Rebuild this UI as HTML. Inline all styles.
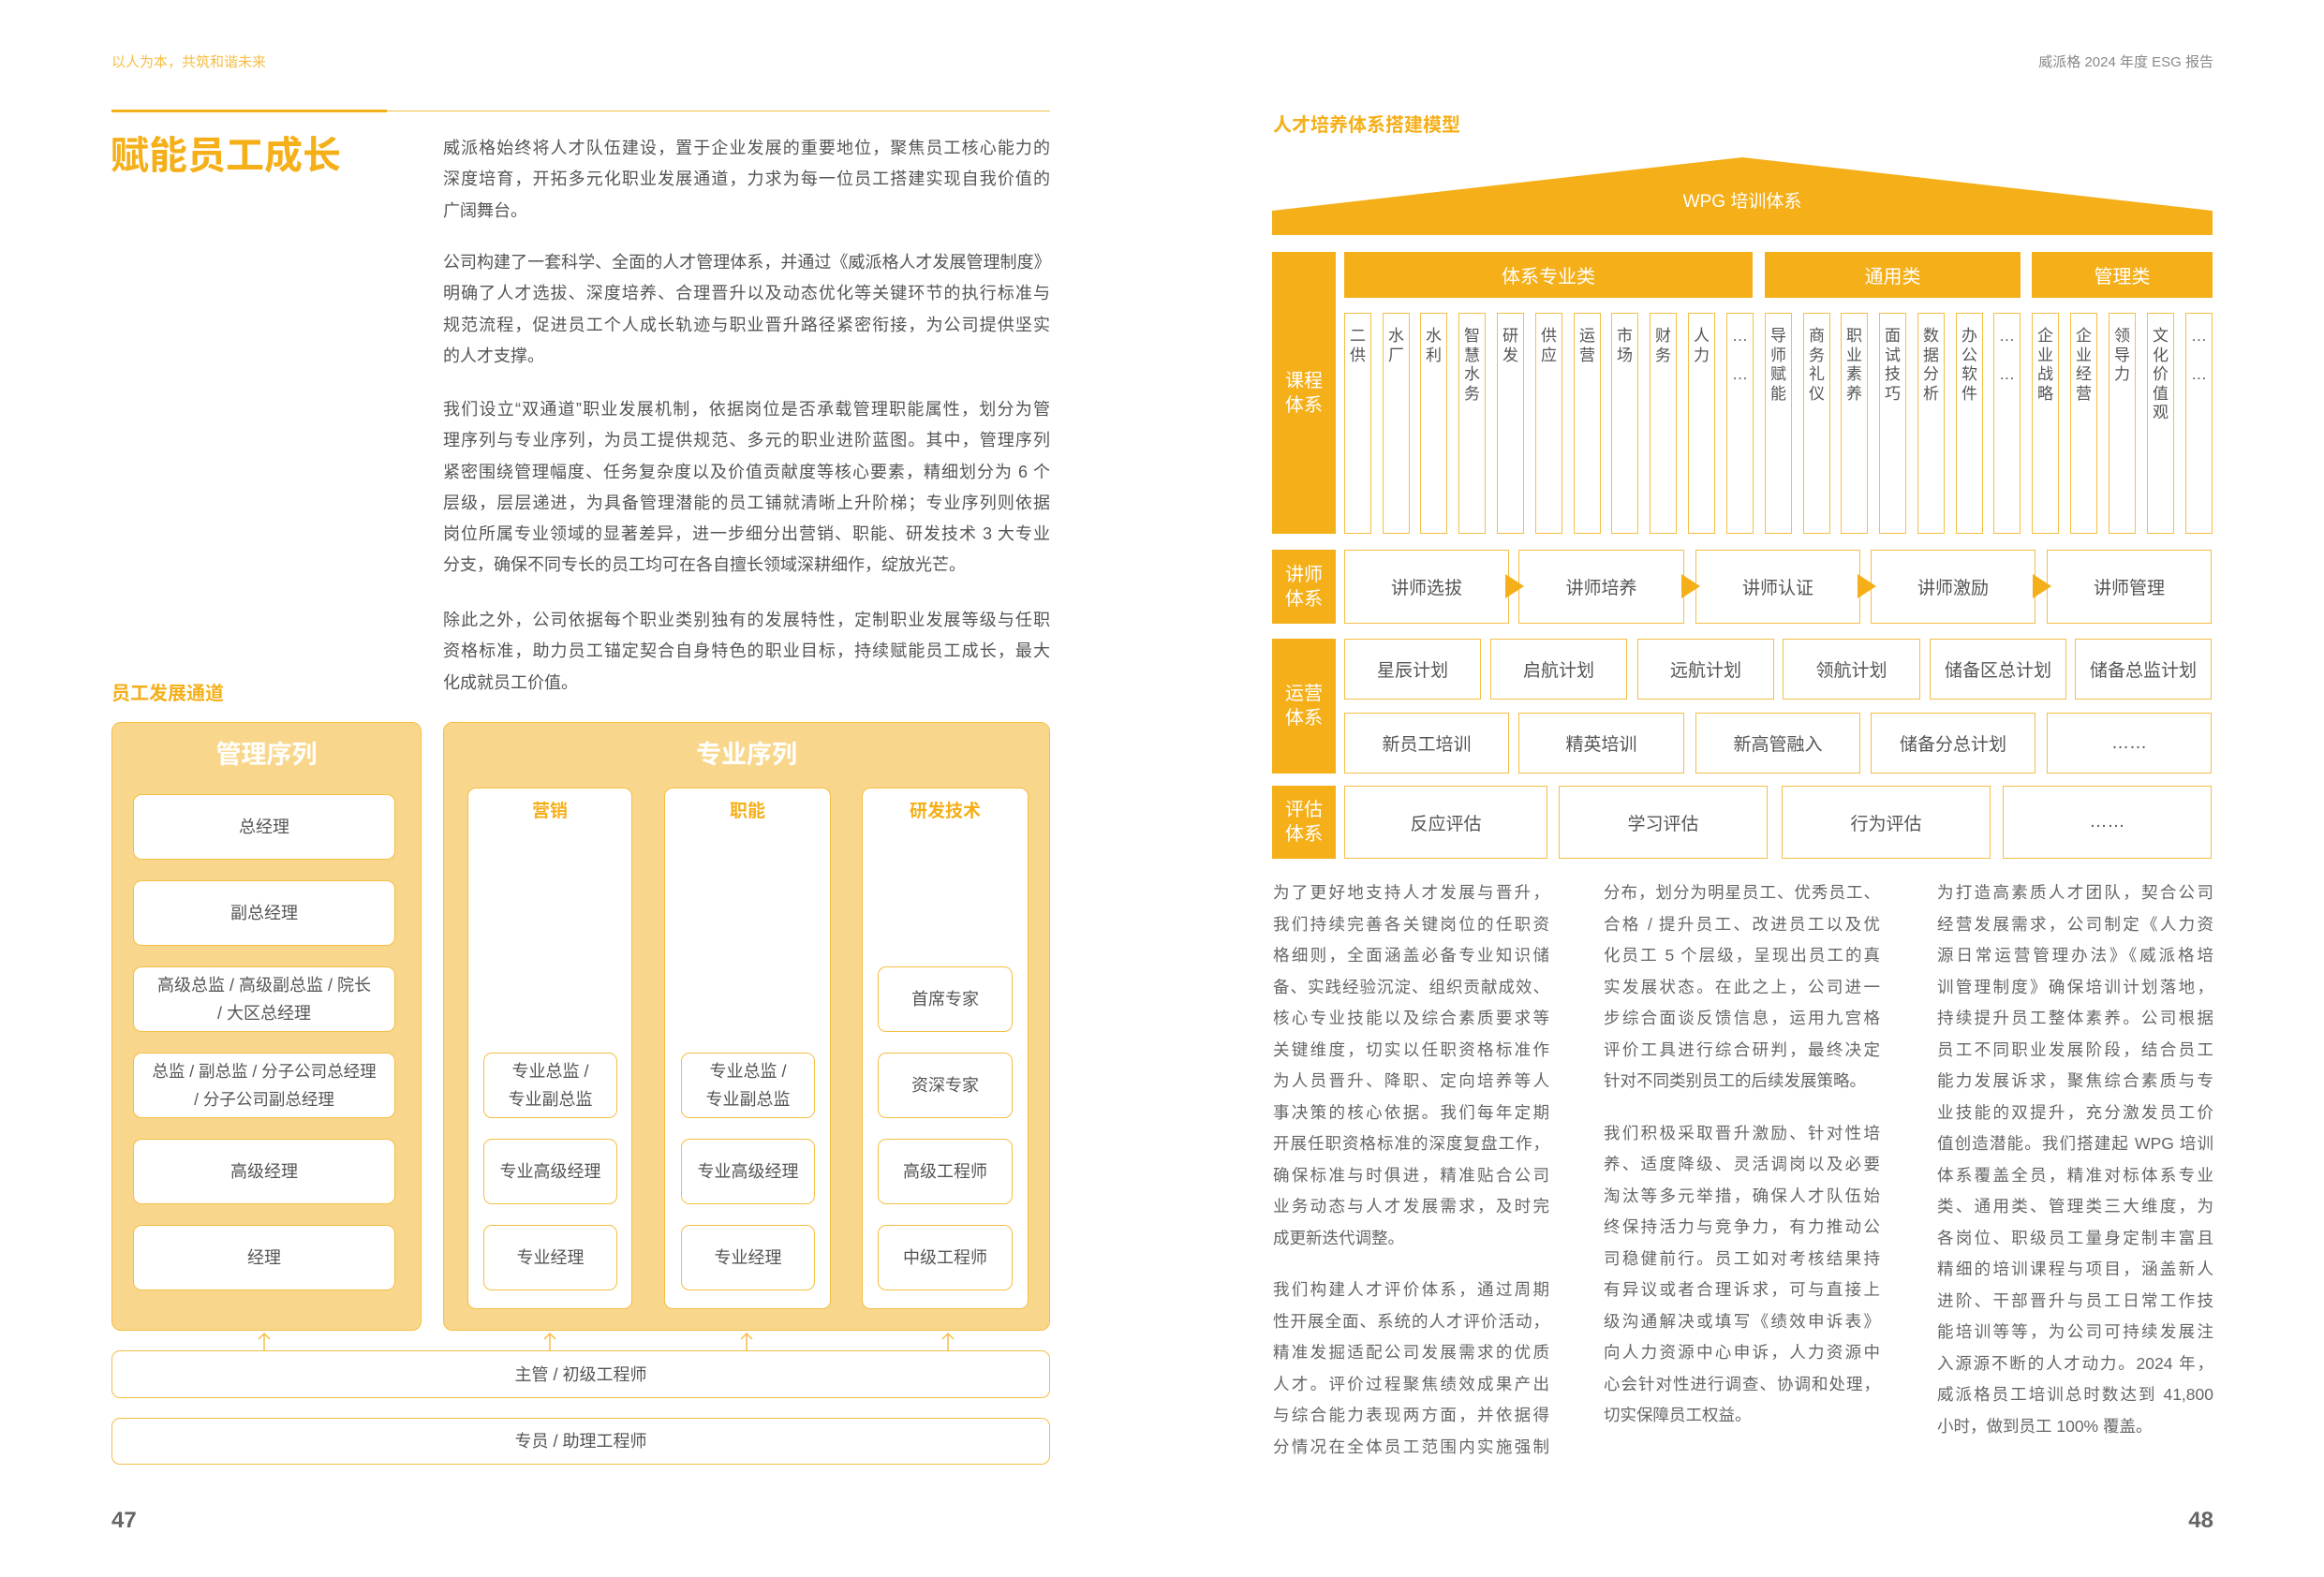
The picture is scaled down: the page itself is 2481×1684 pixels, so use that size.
<!DOCTYPE html>
<html><head><meta charset="utf-8">
<style>
*{margin:0;padding:0;box-sizing:border-box}
body{width:2481px;height:1684px;position:relative;background:#fff;font-family:"Liberation Sans","Noto Sans CJK SC",sans-serif;color:#555;overflow:hidden}
.a{position:absolute}
.j{display:block;text-align:justify;text-align-last:justify;height:33.3px;line-height:33.3px;white-space:nowrap}
.l{display:block;height:33.3px;line-height:33.3px;white-space:nowrap}
.p{position:absolute;width:648px;left:473px;font-size:18px;color:#555}
.rc{position:absolute;width:295px;font-size:17.5px;color:#666;top:937px}
.rc .j,.rc .l{height:33.5px;line-height:33.5px}
.box{position:absolute;background:#fff;border:1.5px solid #F5BE45;border-radius:9px;display:flex;align-items:center;justify-content:center;text-align:center;font-size:18px;color:#555;line-height:30px}
.lab{position:absolute;background:#F5AF19;color:#fff;font-size:20px;display:flex;align-items:center;justify-content:center;text-align:center;line-height:26px;left:1358px;width:68px}
.hd{position:absolute;background:#F5AF19;color:#fff;font-size:20px;display:flex;align-items:center;justify-content:center;top:269px;height:49px}
.c{position:absolute;top:334px;height:236px;width:29px;border:1.5px solid #F5BE45;font-size:17px;line-height:20.5px;text-align:center;padding-top:14px;color:#555}
.b{position:absolute;border:1.5px solid #F5BE45;display:flex;align-items:center;justify-content:center;font-size:19px;color:#555;background:#fff}
</style></head><body>
<div class="a" style="left:119px;top:55px;font-size:15px;color:#F5BE45">以人为本，共筑和谐未来</div>
<div class="a" style="right:118px;top:55px;font-size:15px;color:#888">威派格 2024 年度 ESG 报告</div>
<div class="a" style="left:119px;top:118px;width:1002px;height:1px;background:#F5BE45"></div>
<div class="a" style="left:119px;top:117px;width:294px;height:3px;background:#F5AF19"></div>
<div class="a" style="left:118px;top:142px;font-size:41px;font-weight:bold;color:#F5AF19;line-height:48px">赋能员工成长</div>

<div class="p" style="top:142px">
<span class="j">威派格始终将人才队伍建设，置于企业发展的重要地位，聚焦员工核心能力的</span>
<span class="j">深度培育，开拓多元化职业发展通道，力求为每一位员工搭建实现自我价值的</span>
<span class="l">广阔舞台。</span></div>
<div class="p" style="top:264px">
<span class="j" style="letter-spacing:-0.6px">公司构建了一套科学、全面的人才管理体系，并通过《威派格人才发展管理制度》</span>
<span class="j">明确了人才选拔、深度培养、合理晋升以及动态优化等关键环节的执行标准与</span>
<span class="j">规范流程，促进员工个人成长轨迹与职业晋升路径紧密衔接，为公司提供坚实</span>
<span class="l">的人才支撑。</span></div>
<div class="p" style="top:421px">
<span class="j">我们设立“双通道”职业发展机制，依据岗位是否承载管理职能属性，划分为管</span>
<span class="j">理序列与专业序列，为员工提供规范、多元的职业进阶蓝图。其中，管理序列</span>
<span class="j">紧密围绕管理幅度、任务复杂度以及价值贡献度等核心要素，精细划分为 6 个</span>
<span class="j">层级，层层递进，为具备管理潜能的员工铺就清晰上升阶梯；专业序列则依据</span>
<span class="j">岗位所属专业领域的显著差异，进一步细分出营销、职能、研发技术 3 大专业</span>
<span class="l">分支，确保不同专长的员工均可在各自擅长领域深耕细作，绽放光芒。</span></div>
<div class="p" style="top:646px">
<span class="j">除此之外，公司依据每个职业类别独有的发展特性，定制职业发展等级与任职</span>
<span class="j">资格标准，助力员工锚定契合自身特色的职业目标，持续赋能员工成长，最大</span>
<span class="l">化成就员工价值。</span></div>

<div class="a" style="left:119px;top:724px;font-size:20px;font-weight:bold;color:#F5AF19">员工发展通道</div>

<div class="a" style="left:119px;top:771px;width:331px;height:650px;background:#F8D78C;border:1.5px solid #F5BE45;border-radius:10px"></div>
<div class="a" style="left:473px;top:771px;width:648px;height:650px;background:#F8D78C;border:1.5px solid #F5BE45;border-radius:10px"></div>
<div class="a" style="left:119px;top:784px;width:331px;text-align:center;font-size:27px;font-weight:bold;color:#fff">管理序列</div>
<div class="a" style="left:473px;top:784px;width:648px;text-align:center;font-size:27px;font-weight:bold;color:#fff">专业序列</div>

<div class="box" style="left:142px;top:848px;width:280px;height:70px">总经理</div>
<div class="box" style="left:142px;top:940px;width:280px;height:70px">副总经理</div>
<div class="box" style="left:142px;top:1032px;width:280px;height:70px">高级总监 / 高级副总监 / 院长<br>/ 大区总经理</div>
<div class="box" style="left:142px;top:1124px;width:280px;height:70px;font-size:17.5px">总监 / 副总监 / 分子公司总经理<br>/ 分子公司副总经理</div>
<div class="box" style="left:142px;top:1216px;width:280px;height:70px">高级经理</div>
<div class="box" style="left:142px;top:1308px;width:280px;height:70px">经理</div>

<div class="box" style="left:499px;top:841px;width:176px;height:557px;align-items:flex-start;padding-top:10px;color:#F5AF19;font-weight:bold;font-size:19px">营销</div>
<div class="box" style="left:709px;top:841px;width:178px;height:557px;align-items:flex-start;padding-top:10px;color:#F5AF19;font-weight:bold;font-size:19px">职能</div>
<div class="box" style="left:920px;top:841px;width:178px;height:557px;align-items:flex-start;padding-top:10px;color:#F5AF19;font-weight:bold;font-size:19px">研发技术</div>

<div class="box" style="left:516px;top:1124px;width:143px;height:70px">专业总监 /<br>专业副总监</div>
<div class="box" style="left:516px;top:1216px;width:143px;height:70px">专业高级经理</div>
<div class="box" style="left:516px;top:1308px;width:143px;height:70px">专业经理</div>
<div class="box" style="left:727px;top:1124px;width:143px;height:70px">专业总监 /<br>专业副总监</div>
<div class="box" style="left:727px;top:1216px;width:143px;height:70px">专业高级经理</div>
<div class="box" style="left:727px;top:1308px;width:143px;height:70px">专业经理</div>
<div class="box" style="left:937px;top:1032px;width:144px;height:70px">首席专家</div>
<div class="box" style="left:937px;top:1124px;width:144px;height:70px">资深专家</div>
<div class="box" style="left:937px;top:1216px;width:144px;height:70px">高级工程师</div>
<div class="box" style="left:937px;top:1308px;width:144px;height:70px">中级工程师</div>

<div class="box" style="left:119px;top:1442px;width:1002px;height:51px">主管 / 初级工程师</div>
<div class="box" style="left:119px;top:1514px;width:1002px;height:50px">专员 / 助理工程师</div>
<div class="a" style="left:119px;top:1610px;font-size:24px;font-weight:bold;color:#666">47</div>

<svg class="a" style="left:0;top:0" width="2481" height="1684">
<g stroke="#F5BE45" stroke-width="1.5" fill="none">
<path d="M282 1442V1424M276 1430L282 1424L288 1430"/>
<path d="M587 1442V1424M581 1430L587 1424L593 1430"/>
<path d="M797 1442V1424M791 1430L797 1424L803 1430"/>
<path d="M1012 1442V1424M1006 1430L1012 1424L1018 1430"/>
</g>
<polygon points="1358,225 1860,168 2362,225 2362,251 1358,251" fill="#F5AF19"/>
</svg>

<div class="a" style="left:1359px;top:117px;font-size:20px;font-weight:bold;color:#F5AF19">人才培养体系搭建模型</div>
<div class="a" style="left:1358px;top:200px;width:1004px;text-align:center;font-size:19px;color:#fff">WPG 培训体系</div>

<div class="lab" style="top:269px;height:301px">课程<br>体系</div>
<div class="hd" style="left:1435px;width:436px">体系专业类</div>
<div class="hd" style="left:1884px;width:273px">通用类</div>
<div class="hd" style="left:2169px;width:193px">管理类</div>

<div class="c" style="left:1435px">二<br>供</div>
<div class="c" style="left:1476px">水<br>厂</div>
<div class="c" style="left:1516px">水<br>利</div>
<div class="c" style="left:1557px">智<br>慧<br>水<br>务</div>
<div class="c" style="left:1598px">研<br>发</div>
<div class="c" style="left:1639px">供<br>应</div>
<div class="c" style="left:1680px">运<br>营</div>
<div class="c" style="left:1720px">市<br>场</div>
<div class="c" style="left:1761px">财<br>务</div>
<div class="c" style="left:1802px">人<br>力</div>
<div class="c" style="left:1843px">…<br><br>…</div>
<div class="c" style="left:1884px">导<br>师<br>赋<br>能</div>
<div class="c" style="left:1925px">商<br>务<br>礼<br>仪</div>
<div class="c" style="left:1965px">职<br>业<br>素<br>养</div>
<div class="c" style="left:2006px">面<br>试<br>技<br>巧</div>
<div class="c" style="left:2047px">数<br>据<br>分<br>析</div>
<div class="c" style="left:2088px">办<br>公<br>软<br>件</div>
<div class="c" style="left:2128px">…<br><br>…</div>
<div class="c" style="left:2169px">企<br>业<br>战<br>略</div>
<div class="c" style="left:2210px">企<br>业<br>经<br>营</div>
<div class="c" style="left:2251px">领<br>导<br>力</div>
<div class="c" style="left:2292px">文<br>化<br>价<br>值<br>观</div>
<div class="c" style="left:2333px">…<br><br>…</div>

<div class="lab" style="top:587px;height:79px">讲师<br>体系</div>
<div class="b" style="left:1435px;top:587px;width:176px;height:79px">讲师选拔</div>
<div class="b" style="left:1621px;top:587px;width:177px;height:79px">讲师培养</div>
<div class="b" style="left:1810px;top:587px;width:176px;height:79px">讲师认证</div>
<div class="b" style="left:1997px;top:587px;width:176px;height:79px">讲师激励</div>
<div class="b" style="left:2185px;top:587px;width:176px;height:79px">讲师管理</div>
<svg class="a" style="left:0;top:0" width="2481" height="700">
<g fill="#F5AF19">
<polygon points="1607,613 1627,626 1607,639"/>
<polygon points="1795,613 1815,626 1795,639"/>
<polygon points="1983,613 2003,626 1983,639"/>
<polygon points="2170,613 2190,626 2170,639"/>
</g></svg>

<div class="lab" style="top:682px;height:144px">运营<br>体系</div>
<div class="b" style="left:1435px;top:682px;width:146px;height:65px">星辰计划</div>
<div class="b" style="left:1591px;top:682px;width:146px;height:65px">启航计划</div>
<div class="b" style="left:1748px;top:682px;width:146px;height:65px">远航计划</div>
<div class="b" style="left:1903px;top:682px;width:147px;height:65px">领航计划</div>
<div class="b" style="left:2060px;top:682px;width:146px;height:65px">储备区总计划</div>
<div class="b" style="left:2215px;top:682px;width:146px;height:65px">储备总监计划</div>
<div class="b" style="left:1435px;top:761px;width:176px;height:65px">新员工培训</div>
<div class="b" style="left:1621px;top:761px;width:177px;height:65px">精英培训</div>
<div class="b" style="left:1810px;top:761px;width:176px;height:65px">新高管融入</div>
<div class="b" style="left:1997px;top:761px;width:176px;height:65px">储备分总计划</div>
<div class="b" style="left:2185px;top:761px;width:176px;height:65px">……</div>

<div class="lab" style="top:839px;height:78px">评估<br>体系</div>
<div class="b" style="left:1435px;top:839px;width:217px;height:78px">反应评估</div>
<div class="b" style="left:1664px;top:839px;width:223px;height:78px">学习评估</div>
<div class="b" style="left:1902px;top:839px;width:223px;height:78px">行为评估</div>
<div class="b" style="left:2138px;top:839px;width:223px;height:78px">……</div>

<div class="rc" style="left:1359px">
<span class="j">为了更好地支持人才发展与晋升，</span>
<span class="j">我们持续完善各关键岗位的任职资</span>
<span class="j">格细则，全面涵盖必备专业知识储</span>
<span class="j">备、实践经验沉淀、组织贡献成效、</span>
<span class="j">核心专业技能以及综合素质要求等</span>
<span class="j">关键维度，切实以任职资格标准作</span>
<span class="j">为人员晋升、降职、定向培养等人</span>
<span class="j">事决策的核心依据。我们每年定期</span>
<span class="j">开展任职资格标准的深度复盘工作，</span>
<span class="j">确保标准与时俱进，精准贴合公司</span>
<span class="j">业务动态与人才发展需求，及时完</span>
<span class="l">成更新迭代调整。</span>
<span class="l" style="height:22px"></span>
<span class="j">我们构建人才评价体系，通过周期</span>
<span class="j">性开展全面、系统的人才评价活动，</span>
<span class="j">精准发掘适配公司发展需求的优质</span>
<span class="j">人才。评价过程聚焦绩效成果产出</span>
<span class="j">与综合能力表现两方面，并依据得</span>
<span class="j">分情况在全体员工范围内实施强制</span>
</div>
<div class="rc" style="left:1712px">
<span class="j">分布，划分为明星员工、优秀员工、</span>
<span class="j">合格 / 提升员工、改进员工以及优</span>
<span class="j">化员工 5 个层级，呈现出员工的真</span>
<span class="j">实发展状态。在此之上，公司进一</span>
<span class="j">步综合面谈反馈信息，运用九宫格</span>
<span class="j">评价工具进行综合研判，最终决定</span>
<span class="l">针对不同类别员工的后续发展策略。</span>
<span class="l" style="height:22px"></span>
<span class="j">我们积极采取晋升激励、针对性培</span>
<span class="j">养、适度降级、灵活调岗以及必要</span>
<span class="j">淘汰等多元举措，确保人才队伍始</span>
<span class="j">终保持活力与竞争力，有力推动公</span>
<span class="j">司稳健前行。员工如对考核结果持</span>
<span class="j">有异议或者合理诉求，可与直接上</span>
<span class="j">级沟通解决或填写《绩效申诉表》</span>
<span class="j">向人力资源中心申诉，人力资源中</span>
<span class="j">心会针对性进行调查、协调和处理，</span>
<span class="l">切实保障员工权益。</span>
</div>
<div class="rc" style="left:2068px">
<span class="j">为打造高素质人才团队，契合公司</span>
<span class="j">经营发展需求，公司制定《人力资</span>
<span class="j">源日常运营管理办法》《威派格培</span>
<span class="j">训管理制度》确保培训计划落地，</span>
<span class="j">持续提升员工整体素养。公司根据</span>
<span class="j">员工不同职业发展阶段，结合员工</span>
<span class="j">能力发展诉求，聚焦综合素质与专</span>
<span class="j">业技能的双提升，充分激发员工价</span>
<span class="j">值创造潜能。我们搭建起 WPG 培训</span>
<span class="j">体系覆盖全员，精准对标体系专业</span>
<span class="j">类、通用类、管理类三大维度，为</span>
<span class="j">各岗位、职级员工量身定制丰富且</span>
<span class="j">精细的培训课程与项目，涵盖新人</span>
<span class="j">进阶、干部晋升与员工日常工作技</span>
<span class="j">能培训等等，为公司可持续发展注</span>
<span class="j">入源源不断的人才动力。2024 年，</span>
<span class="j">威派格员工培训总时数达到 41,800</span>
<span class="l">小时，做到员工 100% 覆盖。</span>
</div>
<div class="a" style="right:118px;top:1610px;font-size:24px;font-weight:bold;color:#666">48</div>
</body></html>
